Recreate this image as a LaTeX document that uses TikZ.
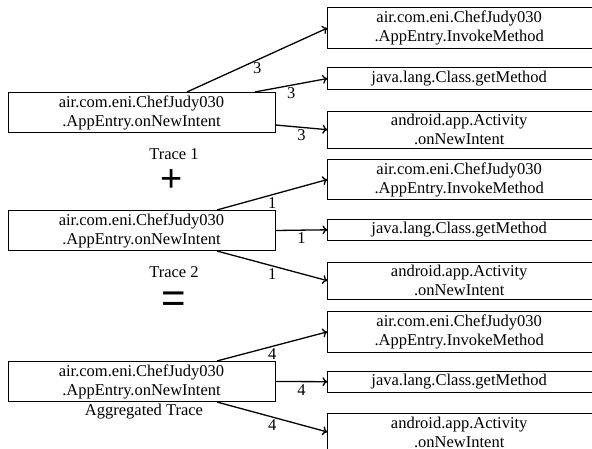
\documentclass[tikz,border=0pt]{standalone}
\usepackage{fontspec}
\setmainfont{Liberation Serif}
\newfontfamily\opfont{Liberation Sans}
\usetikzlibrary{arrows.meta,calc}
\begin{document}
\begin{tikzpicture}[x=1pt,y=-1pt,
  every node/.style={font=\fontsize{16.5}{19}\selectfont},
  lbox/.style={draw, line width=0.9pt, minimum width=267pt, inner xsep=2pt, inner ysep=3pt, align=center},
  rbox/.style={anchor=west, minimum width=263pt, inner xsep=2pt, inner ysep=3pt, align=center},
  edge/.style={line width=1.3pt, -{To[length=5pt,width=9pt]}},
  cnt/.style={midway, below, inner sep=2pt},
  caption/.style={inner sep=1pt},
  opsign/.style={inner sep=0pt}
]
\useasboundingbox (0,0) rectangle (592,449);
\clip (0,0) rectangle (592,449);

% left boxes
\node[lbox] (l1) at (141.5,112.5) {air.com.eni.ChefJudy030\\.AppEntry.onNewIntent};
\node[lbox] (l2) at (141.5,230.5) {air.com.eni.ChefJudy030\\.AppEntry.onNewIntent};
\node[lbox] (l3) at (141.5,381.5) {air.com.eni.ChefJudy030\\.AppEntry.onNewIntent};

% right boxes
\node[rbox] (r1a) at (327.5,28) {air.com.eni.ChefJudy030\\.AppEntry.InvokeMethod};
\node[rbox] (r1b) at (327.5,78.5) {java.lang.Class.getMethod};
\node[rbox] (r1c) at (327.5,129.7) {android.app.Activity\\.onNewIntent};
\node[rbox] (r2a) at (327.5,179.5) {air.com.eni.ChefJudy030\\.AppEntry.InvokeMethod};
\node[rbox] (r2b) at (327.5,229.8) {java.lang.Class.getMethod};
\node[rbox] (r2c) at (327.5,280.7) {android.app.Activity\\.onNewIntent};
\node[rbox] (r3a) at (327.5,331.8) {air.com.eni.ChefJudy030\\.AppEntry.InvokeMethod};
\node[rbox] (r3b) at (327.5,381.7) {java.lang.Class.getMethod};
\node[rbox] (r3c) at (327.5,432) {android.app.Activity\\.onNewIntent};

\foreach \n in {r1a,r1b,r1c,r2a,r2b,r2c,r3a,r3b,r3c}
  \draw[line width=0.9pt] ([xshift=20pt]\n.north east) -- (\n.north west) -- (\n.south west) -- ([xshift=20pt]\n.south east);

% trace 1
\draw[edge] ([xshift=45.5pt]l1.north) -- (r1a.west) node[cnt] {3};
\draw[edge] ([xshift=113.5pt]l1.north) -- (r1b.west) node[cnt] {3};
\draw[edge] ([yshift=-12.5pt]l1.east) -- (r1c.west) node[cnt] {3};
% trace 2
\draw[edge] ([xshift=75.5pt]l2.north) -- (r2a.west) node[cnt] {1};
\draw[edge] (l2.east) -- (r2b.west) node[cnt] {1};
\draw[edge] ([xshift=75.5pt]l2.south) -- (r2c.west) node[cnt] {1};
% aggregated
\draw[edge] ([xshift=75.5pt]l3.north) -- (r3a.west) node[cnt] {4};
\draw[edge] (l3.east) -- (r3b.west) node[cnt] {4};
\draw[edge] ([xshift=75.5pt]l3.south) -- (r3c.west) node[cnt] {4};

% captions and operators
\node[caption] (t1) at (174,154) {Trace 1};
\node[opsign, font=\opfont\fontsize{38}{38}\selectfont] (plus) at (172,181) {+};
\node[caption] (t2) at (174,272) {Trace 2};
\node[opsign, font=\opfont\fontsize{42}{42}\selectfont] (eq) at (174,302) {=};
\node[caption] (t3) at (144,412) {Aggregated Trace};
\end{tikzpicture}
\end{document}
